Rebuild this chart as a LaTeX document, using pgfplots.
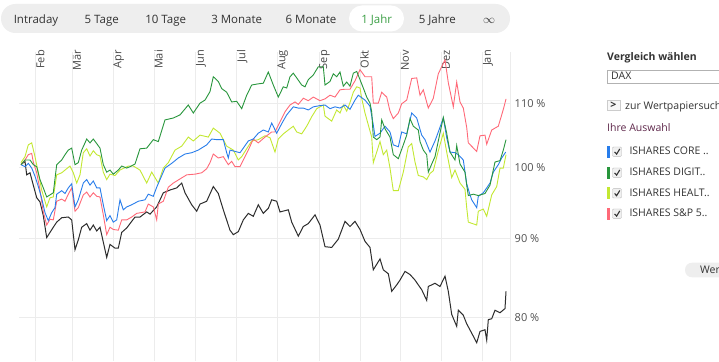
\documentclass[border=0pt]{standalone}
\usepackage{fontspec}
\setmainfont{Open Sans}
\usepackage{pgfplots}
\pgfplotsset{compat=1.18}
\definecolor{cblue}{RGB}{40,125,235}
\definecolor{cgreen}{RGB}{40,150,60}
\definecolor{clime}{RGB}{195,232,50}
\definecolor{cred}{RGB}{255,105,120}
\definecolor{cblack}{RGB}{45,45,45}
\definecolor{gridc}{RGB}{236,236,236}
\definecolor{barbg}{RGB}{238,238,238}
\definecolor{txt}{RGB}{51,51,51}
\definecolor{jahr}{RGB}{60,160,70}
\definecolor{auswahl}{RGB}{95,40,75}
\begin{document}
\begin{tikzpicture}[x=1pt,y=1pt]
\useasboundingbox (0,0) rectangle (719,361);
\clip (0,0) rectangle (719,361);
\fill[white] (0,0) rectangle (719,361);
% top bar
\fill[barbg,rounded corners=14.5pt] (1,328) rectangle (510,357);
\fill[white,rounded corners=13pt] (349,329.5) rectangle (404,355.5);
\begin{scope}[every node/.style={font=\fontsize{11.5}{13}\selectfont,text=txt,inner sep=0pt,anchor=base}]
\node at (36,337.7) {Intraday};
\node at (101.7,337.7) {5 Tage};
\node at (165.7,337.7) {10 Tage};
\node at (236.7,337.7) {3 Monate};
\node at (311,337.7) {6 Monate};
\node[text=jahr] at (376.7,337.7) {1 Jahr};
\node at (437.3,337.7) {5 Jahre};
\node at (489,337.7) {$\infty$};
\end{scope}
% right panel
\begin{scope}[every node/.style={font=\fontsize{10.5}{12}\selectfont,text=txt,inner sep=0pt,anchor=base west}]
\node[font=\fontsize{10.5}{12}\selectfont\bfseries] at (607,300.3) {Vergleich wählen};
\draw[gray!60,fill=white] (606.7,291) rectangle (730,277.7);
\node at (611,281.7) {DAX};
\draw[gray!40,fill=gray!6] (606.7,251) rectangle (620,261);
\node[font=\fontsize{10.5}{12}\selectfont\bfseries,anchor=center] at (613.3,256) {>};
\node at (625,251.2) {zur Wertpapiersuche};
\node[text=auswahl] at (607,229.3) {Ihre Auswahl};
\foreach \yy/\cc/\ll in {209.3/cblue/{ISHARES CORE ..},188.3/cgreen/{ISHARES DIGIT..},167.7/clime/{ISHARES HEALT..},147.3/cred/{ISHARES S\&P 5..}}{
  \fill[\cc] (606.7,\yy-6) rectangle (609.8,\yy+6);
  \draw[gray!55,fill=gray!12,rounded corners=1pt] (612.5,\yy-4.7) rectangle (621.5,\yy+4.7);
  \draw[gray!40!black,line width=1.1pt] (614.6,\yy-0.2) -- (616.6,\yy-2.4) -- (619.8,\yy+2.8);
  \node at (629.3,\yy-3.3) {\ll};
}
\fill[barbg,rounded corners=7pt] (685,83.7) rectangle (740,98.3);
\node at (700,87.7) {Wer};
\end{scope}
\begin{axis}[
  at={(19pt,0pt)}, anchor=south west, scale only axis,
  width=491pt, height=309pt,
  xmin=19, xmax=510, ymode=log, ymin=75.04, ymax=118.68,
  axis line style={draw=none},
  xtick={35.7,72.7,113.3,154.3,195.7,236.7,277.3,319,360,400.7,441.7,482.7},
  xticklabels={},
  ytick={80,90,100,110},
  yticklabels={80 \%,90 \%,100 \%,110 \%},
  yticklabel pos=right,
  yticklabel style={anchor=west,inner sep=0pt,xshift=4.5pt,font=\fontsize{11}{13}\selectfont,text=black!68},
  major tick length=0pt, tick style={draw=none},
  grid=major, major grid style={draw=gridc,line width=0.8pt},
  clip=false,
]
\draw[gridc,line width=0.9pt] (rel axis cs:1,0) -- (rel axis cs:1,1);
\begin{scope}[every node/.style={rotate=90,anchor=north east,inner sep=0pt,font=\fontsize{11}{13}\selectfont,text=black!72}]
\foreach \xx/\mm in {35.7/Feb,72.7/Mär,113.3/Apr,154.3/Mai,195.7/Jun,236.7/Jul,277.3/Aug,319/Sep,360/Okt,400.7/Nov,441.7/Dez,482.7/Jan}{
  \edef\tmp{\noexpand\node at (axis cs:\xx,118.33) [xshift=4pt] {\mm};}\tmp
}
\end{scope}
% black
\addplot[cblack,line width=1pt] coordinates {
(21,100.4)(25,100.9)(26.7,98.9)(30,99.2)(33.3,97.4)(36.7,95.6)(40,95.0)(43.3,93.1)(46.7,90.1)(50,90.8)(53.3,91.5)(56.7,92.2)(61.7,92.8)(68.3,92.9)(71.7,92.5)(75,88.5)(78.3,89.8)(81.7,91.5)(86.7,92.0)(90,91.1)(93.3,91.8)(96.7,91.0)(100,91.5)(103.3,89.5)(106.7,87.5)(110,89.2)(115,88.7)(118.3,88.7)(121.7,90.8)(126.7,91.4)(135,92.9)(140,92.9)(146.7,93.6)(150,93.3)(156.7,94.3)(163.3,96.3)(170,96.7)(176.7,97.0)(181.7,97.7)(185,96.3)(191.7,94.6)(196.7,93.7)(200,94.7)(206.7,95.1)(213.3,97.2)(218.3,96.2)(223.3,93.9)(230,91.1)(233.3,90.5)(238.3,90.9)(243.3,92.5)(248.3,93.4)(253.3,93.0)(258.3,94.6)(263.3,93.4)(268.3,94.1)(271.7,95.3)(276.7,95.1)(280,93.6)(288.3,93.9)(291.7,92.2)(298.3,90.3)(303.3,91.6)(308.3,92.0)(315,93.2)(320,91.8)(325,88.9)(331.7,88.8)(338.3,89.9)(345,92.3)(350,91.6)(355,92.3)(360,91.2)(365,89.6)(370,88.8)(373.3,85.9)(380,87.3)(383.3,85.9)(388.3,85.4)(391.7,83.2)(396.7,84.0)(400,84.6)(405,85.7)(410,85.3)(415,84.6)(418.3,84.0)(421.7,83.4)(426.7,82.1)(428.3,83.8)(435,84.2)(440,83.8)(445,85.1)(448.3,83.2)(451.7,80.4)(456.7,79.0)(458.3,80.9)(463.3,80.3)(466.7,79.3)(471.7,78.2)(476.7,77.1)(480,78.4)(485,78.6)(486.7,77.4)(488.3,79.8)(491.7,79.9)(495,80.9)(500,80.6)(505,81.1)(506,83.2)
};
% lime
\addplot[clime,line width=0.9pt] coordinates {
(21,100.7)(25,101.6)(28.3,103.4)(31.7,103.7)(35,101.6)(38.3,99.2)(41.7,96.7)(45,95.1)(46.7,94.3)(50,95.6)(53.3,95.7)(56.7,98.9)(61.7,99.2)(65,99.6)(70,100.2)(73.3,99.2)(76.7,97.7)(80,98.9)(83.3,102.2)(86.7,102.8)(90,101.7)(93.3,102.5)(96.7,101.9)(100,101.7)(103.3,99.3)(106.7,98.2)(110,99.0)(115,98.8)(120,99.6)(128.3,100.2)(133.3,100.2)(140,99.6)(146.7,97.7)(151.7,99.3)(158.3,97.7)(163.3,99.9)(168.3,100.7)(175,102.6)(181.7,103.2)(188.3,104.6)(193.3,104.0)(200,104.9)(208.3,104.6)(213.3,106.0)(220,105.2)(226.7,103.2)(233.3,102.6)(238.3,101.1)(241.7,101.6)(246.7,102.8)(251.7,104.0)(258.3,104.2)(265,104.8)(270,104.5)(275,102.3)(278.3,104.3)(283.3,105.1)(288.3,105.7)(293.3,106.3)(296.7,105.4)(301.7,105.1)(306.7,106.3)(311.7,107.8)(316.7,109.1)(323.3,109.7)(325,107.9)(331.7,107.1)(336.7,108.9)(340,108.4)(343.3,109.7)(346.7,108.7)(350,110.1)(353.3,111.8)(356.7,112.7)(360,112.5)(361.7,110.8)(365,108.4)(368.3,106.5)(371.7,104.6)(373.3,100.7)(376.7,102.3)(380,103.9)(383.3,101.9)(386.7,102.6)(390,99.9)(393.3,96.6)(398.3,96.6)(403.3,99.3)(408.3,103.1)(411.7,103.6)(415,100.8)(418.3,98.8)(423.3,98.6)(426.7,98.2)(430,99.1)(433.3,99.5)(438.3,102.5)(443.3,105.2)(446.7,102.3)(451.7,98.5)(455,99.6)(460,97.7)(465,96.8)(466.7,94.2)(468.3,92.2)(476.7,91.8)(478.3,93.7)(483.3,94.0)(486.7,93.0)(491.7,96.0)(496.7,97.2)(500,99.9)(503.3,99.9)(506,101.9)
};
% red
\addplot[cred,line width=0.9pt] coordinates {
(21,100.4)(25,101.1)(28.3,101.9)(31.7,102.1)(33.3,100.8)(36.7,99.2)(40,96.7)(43.3,93.6)(46.7,91.8)(50,92.6)(53.3,92.5)(56.7,95.1)(61.7,95.4)(65,95.1)(68.3,96.1)(71.7,97.0)(75,93.7)(78.3,94.2)(83.3,96.0)(86.7,96.4)(90,95.7)(93.3,96.3)(96.7,95.8)(100,95.7)(103.3,93.2)(106.7,90.5)(110,91.5)(113.3,91.2)(118.3,91.1)(121.7,92.5)(126.7,92.5)(131.7,92.9)(136.7,93.4)(145,93.6)(148.3,94.7)(153.3,94.3)(156.7,92.5)(158.3,94.7)(163.3,95.1)(168.3,97.1)(173.3,97.7)(180,98.3)(186.7,98.9)(195,99.0)(201.7,99.2)(206.7,99.8)(210,100.7)(213.3,102.0)(218.3,101.4)(223.3,101.6)(228.3,100.4)(231.7,100.9)(235,100.1)(240,100.1)(243.3,101.1)(248.3,102.6)(253.3,104.3)(258.3,103.7)(265,104.6)(271.7,105.4)(275,105.4)(280,107.0)(285,108.6)(290,109.7)(295,110.2)(298.3,109.8)(303.3,110.8)(308.3,110.4)(313.3,111.0)(320,110.4)(325,110.7)(330,111.3)(335,111.0)(340,112.2)(345,112.3)(350,112.3)(355,113.7)(360,115.6)(365,114.4)(371.7,114.4)(373.3,110.0)(378.3,110.0)(381.7,111.8)(386.7,111.0)(390,108.7)(393.3,107.5)(398.3,108.4)(401.7,109.9)(406.7,110.5)(411.7,114.1)(416.7,114.2)(420,111.3)(423.3,112.2)(428.3,109.2)(433.3,110.8)(438.3,114.9)(445,117.3)(448.3,113.4)(453.3,109.4)(456.7,113.5)(460,110.2)(463.3,109.2)(466.7,106.1)(468.3,103.7)(476.7,102.4)(480,104.8)(485,104.9)(486.7,103.5)(491.7,105.7)(498.3,106.3)(501.7,108.1)(504,109.4)(506,110.7)
};
% blue
\addplot[cblue,line width=0.9pt] coordinates {
(21,100.4)(25,100.1)(28.3,100.6)(31.7,99.9)(35,98.7)(38.3,97.2)(41.7,95.5)(45,93.5)(48.3,92.4)(51.7,93.5)(55,94.2)(56.7,96.1)(61.7,96.6)(65,96.2)(68.3,97.0)(71.7,97.6)(75,94.3)(78.3,95.3)(83.3,97.7)(86.7,98.2)(90,97.4)(93.3,98.0)(96.7,97.0)(100,97.0)(103.3,94.6)(106.7,92.4)(110,93.1)(113.3,92.2)(116.7,92.5)(120,95.3)(123.3,93.9)(126.7,94.3)(131.7,94.6)(138.3,95.1)(145,95.3)(148.3,96.1)(153.3,95.8)(156.7,97.1)(160,98.2)(165,99.9)(171.7,100.6)(178.3,101.4)(185,102.0)(191.7,102.2)(198.3,102.6)(206.7,103.4)(211.7,104.3)(216.7,104.2)(223.3,104.2)(226.7,102.2)(228.3,101.4)(230,102.6)(235,102.4)(240,102.2)(243.3,102.9)(248.3,104.0)(253.3,104.3)(258.3,105.2)(263.3,105.7)(268.3,105.4)(271.7,106.8)(276.7,105.2)(281.7,106.7)(286.7,108.1)(293.3,109.4)(298.3,109.2)(303.3,109.2)(308.3,108.9)(313.3,109.4)(320,109.6)(325,109.7)(330,109.1)(335,109.4)(340,109.2)(345,109.7)(350,109.0)(355,110.5)(358.3,111.3)(360,111.1)(365,110.5)(370,109.5)(373.3,106.5)(375,104.7)(380,105.2)(385,106.3)(390,105.4)(393.3,103.4)(398.3,103.1)(401.7,105.4)(406.7,105.1)(411.7,108.4)(416.7,107.6)(421.7,104.9)(425,104.2)(430,102.3)(435,104.0)(438.3,105.4)(443.3,107.6)(446.7,104.5)(450,102.3)(455,102.2)(458.3,101.9)(463.3,101.1)(466.7,97.6)(470,96.0)(471.7,95.3)(476.7,94.2)(478.3,95.8)(483.3,96.3)(486.7,97.0)(490,97.7)(493.3,99.3)(498.3,100.4)(501.7,101.4)(505.7,102.3)
};
% green
\addplot[cgreen,line width=0.9pt] coordinates {
(21,100.4)(25,101.1)(30,101.1)(33.3,100.4)(36.7,100.1)(40,98.2)(43.3,97.0)(46.7,95.7)(50,96.0)(53.3,96.3)(56.7,100.4)(61.7,101.1)(65,101.9)(68.3,102.6)(71.7,102.9)(75,100.4)(78.3,100.7)(81.7,102.6)(85,103.7)(86.7,104.3)(90,103.7)(93.3,104.3)(96.7,103.6)(100,102.9)(103.3,100.4)(106.7,99.3)(110,99.6)(113.3,99.0)(118.3,99.6)(121.7,100.2)(126.7,99.9)(130,100.1)(135,100.5)(140,102.8)(146.7,102.9)(153.3,104.2)(158.3,103.9)(165,107.3)(173.3,107.6)(180,108.1)(188.3,109.7)(193.3,108.4)(200,110.0)(205,110.5)(210,111.9)(213.3,114.4)(218.3,113.6)(221.7,112.4)(226.7,111.8)(231.7,110.2)(236.7,110.3)(241.7,109.1)(246.7,111.3)(251.7,113.0)(258.3,113.2)(263.3,113.3)(268.3,115.2)(273.3,113.0)(278.3,111.0)(283.3,112.7)(286.7,112.5)(290,114.4)(293.3,115.0)(296.7,114.2)(301.7,113.0)(305,112.7)(308.3,113.9)(313.3,114.7)(318.3,116.1)(323.3,116.1)(325,113.0)(330,113.6)(333.3,114.9)(336.7,114.4)(340,115.2)(343.3,112.8)(346.7,113.5)(350,112.8)(353.3,115.0)(356.7,115.3)(360,113.9)(363.3,112.5)(366.7,111.0)(370,110.0)(371.7,108.6)(373.3,104.6)(376.7,104.2)(380,104.6)(381.7,107.3)(385,105.9)(390,104.6)(393.3,101.9)(398.3,101.3)(403.3,103.4)(406.7,104.9)(410,107.5)(413.3,106.3)(418.3,105.7)(420,103.9)(423.3,102.6)(426.7,101.9)(428.3,99.3)(431.7,100.5)(435,101.6)(438.3,104.0)(443.3,107.7)(446.7,105.2)(450,102.3)(455,101.1)(456.7,103.3)(460,100.5)(465,99.3)(466.7,97.4)(468.3,95.9)(473.3,96.1)(478.3,95.9)(485,96.2)(490,97.4)(495,100.8)(500,101.0)(503.3,102.6)(506,104.2)
};
\end{axis}
\end{tikzpicture}
\end{document}
